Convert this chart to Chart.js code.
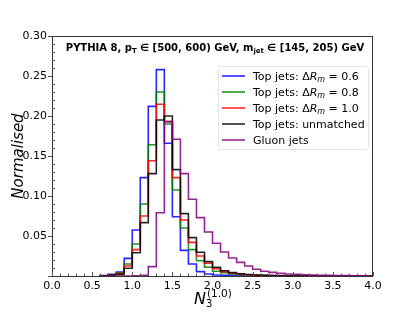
<!DOCTYPE html>
<html lang="en">
<head>
    <meta charset="UTF-8">
    <title>N3 distribution</title>
    <script src="https://cdn.jsdelivr.net/npm/chart.js@4.4.0/dist/chart.umd.min.js"></script>
    <style>
        body { margin: 0; background: #fff; }
    </style>
</head>
<body>

<canvas id="hist" width="415" height="312"></canvas>

<script>

    // bin edges (0.1 wide), values are per bin starting at 0.6
    const binEdges = [0.6, 0.7, 0.8, 0.9, 1.0, 1.1, 1.2, 1.3, 1.4, 1.5, 1.6, 1.7,
        1.8, 1.9, 2.0, 2.1, 2.2, 2.3, 2.4, 2.5, 2.6, 2.7, 2.8, 2.9, 3.0, 3.1,
        3.2, 3.3, 3.4, 3.5, 3.6, 3.7, 3.8, 3.9, 4.0];

    const top06 = [0.0005, 0.002, 0.005, 0.022, 0.0575, 0.123, 0.212, 0.258, 0.166, 0.074,
        0.032, 0.015, 0.0055, 0.0025, 0.0012, 0.0008, 0.0005, 0.0003, 0.0002, 0.0001,
        0.0001, 0.0001, 0, 0, 0, 0, 0, 0, 0, 0, 0, 0, 0, 0];
    const top08 = [0.0003, 0.0015, 0.004, 0.015, 0.040, 0.090, 0.164, 0.230, 0.190, 0.1075,
        0.060, 0.033, 0.019, 0.011, 0.006, 0.004, 0.0025, 0.0017, 0.0012, 0.0008,
        0.0005, 0.0004, 0.0003, 0.0002, 0.0001, 0.0001, 0, 0, 0, 0, 0, 0, 0, 0];
    const top10 = [0.0002, 0.001, 0.003, 0.0125, 0.033, 0.075, 0.144, 0.2146, 0.193, 0.123,
        0.070, 0.042, 0.025, 0.016, 0.009, 0.0055, 0.0035, 0.0023, 0.0015, 0.001,
        0.0007, 0.0005, 0.0003, 0.0002, 0.0001, 0.0001, 0, 0, 0, 0, 0, 0, 0, 0];
    const topUnmatched = [0.0002, 0.0008, 0.002, 0.0096, 0.029, 0.0667, 0.128, 0.195, 0.200, 0.133,
        0.078, 0.048, 0.0296, 0.018, 0.011, 0.0065, 0.0042, 0.0028, 0.0018, 0.0012,
        0.0008, 0.0005, 0.0003, 0.0002, 0.0001, 0.0001, 0, 0, 0, 0, 0, 0, 0, 0];
    const gluon = [0, 0, 0, 0, 0.0003, 0.001, 0.0117, 0.079, 0.193, 0.171,
        0.128, 0.096, 0.073, 0.055, 0.041, 0.030, 0.0225, 0.017, 0.0125, 0.0085,
        0.006, 0.0045, 0.0033, 0.0025, 0.002, 0.0015, 0.0012, 0.001, 0.0008, 0.0006,
        0.0005, 0.0004, 0.0003, 0.0002];

    const xTicks = [0.0, 0.5, 1.0, 1.5, 2.0, 2.5, 3.0, 3.5, 4.0];
    const yTicks = [0.05, 0.10, 0.15, 0.20, 0.25, 0.30];

    const seriesLabels = ['0.6', '0.8', '1.0', 'unmatched', 'gluon'];
    const seriesColors = ['rgba(0,0,255,0.85)', 'rgba(0,128,0,0.85)', 'rgba(255,0,0,0.85)',
        'rgba(0,0,0,0.85)', 'rgba(128,0,128,0.85)'];
    const seriesValues = [top06, top08, top10, topUnmatched, gluon];

    const FONT = "'DejaVu Sans', sans-serif";

    function stepPoints(vals) {
        // start on the baseline, step through bins, drop back at the last edge
        const pts = [{x: binEdges[0], y: 0}];
        vals.forEach((v, i) => pts.push({x: binEdges[i], y: v}));
        pts.push({x: binEdges[binEdges.length - 1], y: 0});
        return pts;
    }

    // draws a list of [text, font, dy] pieces left to right
    function drawRuns(ctx, runs, x, y) {
        runs.forEach(r => {
            ctx.font = r[1];
            ctx.fillText(r[0], x, y + (r[2] || 0));
            x += ctx.measureText(r[0]).width;
        });
        return x;
    }
    function runsWidth(ctx, runs) {
        let w = 0;
        runs.forEach(r => { ctx.font = r[1]; w += ctx.measureText(r[0]).width; });
        return w;
    }

    const decorations = {
        id: 'decorations',
        afterDatasetsDraw(chart) {
            const ctx = chart.ctx;
            const a = chart.chartArea;
            const xs = chart.scales.x, ys = chart.scales.y;
            ctx.save();

            // frame
            ctx.strokeStyle = '#333';
            ctx.lineWidth = 1;
            ctx.strokeRect(a.left + 0.5, a.top + 0.5, a.right - a.left - 1, a.bottom - a.top);

            // ticks
            ctx.strokeStyle = '#555';
            ctx.beginPath();
            for (let i = 0; i <= 40; i++) {
                const px = Math.round(xs.getPixelForValue(i / 10)) + 0.5;
                const len = (i % 5 === 0) ? 4 : 2.5;
                ctx.moveTo(px, a.bottom);
                ctx.lineTo(px, a.bottom - len);
            }
            for (let i = 0; i <= 30; i++) {
                const py = Math.round(ys.getPixelForValue(i / 100)) + 0.5;
                if (i % 5 === 0) {
                    ctx.moveTo(a.left - 4, py);
                    ctx.lineTo(a.left, py);
                } else {
                    ctx.moveTo(a.left, py);
                    ctx.lineTo(a.left + 3, py);
                }
            }
            ctx.stroke();

            ctx.fillStyle = '#000';
            ctx.textBaseline = 'alphabetic';
            ctx.textAlign = 'left';

            // title inside the frame
            const B = "bold 10px " + FONT, Bs = "bold 7px " + FONT;
            const title = [['PYTHIA 8, p', B], ['T', Bs, 2], [' \u2208 [500, 600) GeV, m', B],
                ['jet', Bs, 2], [' \u2208 [145, 205) GeV', B]];
            const tw = runsWidth(ctx, title);
            drawRuns(ctx, title, 215 - tw / 2, 51);

            // legend
            const lx = 218, ly = 66, lw = 150, lh = 83;
            ctx.strokeStyle = '#e4e4e4';
            ctx.fillStyle = 'rgba(255,255,255,0.8)';
            ctx.beginPath();
            ctx.roundRect(lx + 0.5, ly + 0.5, lw, lh, 3);
            ctx.fill();
            ctx.stroke();
            const N = "11px " + FONT, I = "italic 11px " + FONT, Is = "italic 8px " + FONT;
            const legendRuns = [
                [['Top jets: \u0394', N], ['R', I], ['m', Is, 2], [' = 0.6', N]],
                [['Top jets: \u0394', N], ['R', I], ['m', Is, 2], [' = 0.8', N]],
                [['Top jets: \u0394', N], ['R', I], ['m', Is, 2], [' = 1.0', N]],
                [['Top jets: unmatched', N]],
                [['Gluon jets', N]]
            ];
            legendRuns.forEach((runs, i) => {
                const cy = 76 + i * 16;
                ctx.strokeStyle = seriesColors[i];
                ctx.lineWidth = 1.6;
                ctx.beginPath();
                ctx.moveTo(222, cy);
                ctx.lineTo(245, cy);
                ctx.stroke();
                ctx.fillStyle = '#000';
                drawRuns(ctx, runs, 253, cy + 4);
            });

            // axis titles
            ctx.font = "italic 15px " + FONT;
            ctx.save();
            ctx.translate(23, (a.top + a.bottom) / 2);
            ctx.rotate(-Math.PI / 2);
            ctx.textAlign = 'center';
            ctx.fillText('Normalised', 0, 0);
            ctx.restore();

            ctx.font = "italic 16px " + FONT;
            const nw = ctx.measureText('N').width;
            const bx = 194;
            ctx.fillText('N', bx, 304);
            ctx.font = "10px " + FONT;
            ctx.fillText('3', bx + nw, 307);
            ctx.font = "10.5px " + FONT;
            ctx.fillText('(1.0)', bx + nw + 1, 297);

            ctx.restore();
        }
    };

    const datasets = seriesValues.map((vals, i) => ({
        label: seriesLabels[i],
        data: stepPoints(vals),
        borderColor: seriesColors[i],
        borderWidth: 1.6,
        stepped: 'before',
        pointRadius: 0,
        fill: false,
        order: seriesValues.length - 1 - i
    }));

    new Chart('hist', {
        type: 'line',
        data: {datasets: datasets},
        options: {
            responsive: false,
            animation: false,
            events: [],
            layout: {padding: {left: 0, right: 42, top: 36, bottom: 0}},
            plugins: {legend: {display: false}, tooltip: {enabled: false}},
            scales: {
                x: {
                    type: 'linear',
                    min: 0, max: 4,
                    afterBuildTicks: s => { s.ticks = xTicks.map(v => ({value: v})); },
                    afterFit: s => { s.height = 36; },
                    grid: {display: false, drawTicks: false},
                    border: {display: false},
                    ticks: {
                        padding: 4,
                        color: '#000',
                        font: {family: FONT, size: 11},
                        callback: v => v.toFixed(1)
                    }
                },
                y: {
                    min: 0, max: 0.30,
                    afterBuildTicks: s => { s.ticks = yTicks.map(v => ({value: v})); },
                    afterFit: s => { s.width = 52; },
                    grid: {display: false, drawTicks: false},
                    border: {display: false},
                    ticks: {
                        padding: 5,
                        color: '#000',
                        font: {family: FONT, size: 11},
                        callback: v => v.toFixed(2)
                    }
                }
            }
        },
        plugins: [decorations]
    });

</script>

</body>
</html>
